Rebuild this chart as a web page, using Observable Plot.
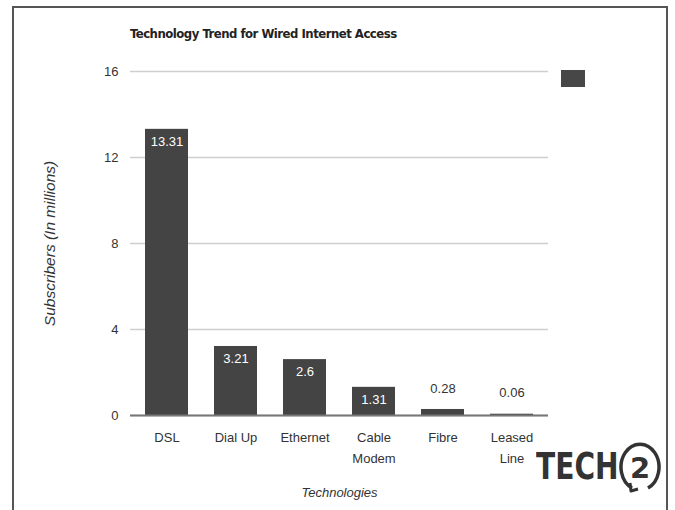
<!DOCTYPE html>
<html>
<head>
<meta charset="utf-8">
<script src="https://cdn.jsdelivr.net/npm/d3@7"></script>
<script src="https://cdn.jsdelivr.net/npm/@observablehq/plot@0.6"></script>
<style>
  html, body { margin: 0; padding: 0; background: #fff; }
  #wrap { position: relative; width: 675px; height: 510px; overflow: hidden; font-family: "Liberation Sans", Arial, sans-serif; }
  #chart svg { position: absolute; left: 0; top: 0; }
  .frame { position: absolute; background: #555; }
  #title { position: absolute; left: 130px; top: 26px; font-size: 13px; font-weight: bold; color: #222; font-family: "DejaVu Sans Condensed", "Liberation Sans", sans-serif; letter-spacing: -0.5px; }
  #swatch { position: absolute; left: 561px; top: 70px; width: 24px; height: 17px; background: #474747; }
  #logoT { position: absolute; left: 536px; top: 443px; font-family: "DejaVu Sans", sans-serif; font-weight: bold; font-size: 37px; line-height: 48px; color: #333; transform: scaleX(0.76); transform-origin: left center; white-space: nowrap; }
  #logoC { position: absolute; left: 618px; top: 441px; }
</style>
</head>
<body>
<div id="wrap">
  <div id="chart"></div>
  <div class="frame" style="left:12px; top:6px; width:656px; height:2px;"></div>
  <div class="frame" style="left:12px; top:6px; width:2px; height:504px;"></div>
  <div class="frame" style="left:666px; top:6px; width:2px; height:504px;"></div>
  <div id="title">Technology Trend for Wired Internet Access</div>
  <div id="swatch"></div>
  <div id="logoT">TECH</div>
  <svg id="logoC" width="46" height="54" viewBox="0 0 46 54">
    <path d="M 30 47 A 19 23 0 1 0 14 47" fill="none" stroke="#333" stroke-width="3.5"/>
    <path d="M 12 42 L 13 50 L 20 48" fill="none" stroke="#333" stroke-width="3" stroke-linejoin="round"/>
    <text x="22" y="37" text-anchor="middle" font-family="DejaVu Sans, sans-serif" font-weight="bold" font-size="29" fill="#333">2</text>
  </svg>
</div>
<script>
const categories = ["DSL", "Dial Up", "Ethernet", "Cable\nModem", "Fibre", "Leased\nLine"];
const values = [13.31, 3.21, 2.6, 1.31, 0.28, 0.06];
const valueLabels = ["13.31", "3.21", "2.6", "1.31", "0.28", "0.06"];
const yTicks = [0, 4, 8, 12, 16];

const data = categories.map((c, i) => ({ category: c, value: values[i], label: valueLabels[i] }));
const inside = data.filter(d => d.value > 1);
const outside = data.filter(d => d.value <= 1);

const chart = Plot.plot({
  width: 675,
  height: 510,
  marginLeft: 130,
  marginRight: 127,
  marginTop: 71,
  marginBottom: 95,
  style: { fontFamily: "Liberation Sans, Arial, sans-serif", fontSize: "13px", color: "#333", background: "transparent" },
  x: { domain: categories, paddingInner: 0.38, paddingOuter: 0.2, label: null },
  y: { domain: [0, 16], label: null },
  marks: [
    Plot.gridY(yTicks, { stroke: "#cfcfcf", strokeOpacity: 1, strokeWidth: 1.5 }),
    Plot.barY(data, { x: "category", y: "value", fill: "#444" }),
    Plot.ruleY([0], { stroke: "#777", strokeWidth: 2 }),
    Plot.text(inside, { x: "category", y: "value", text: "label", dy: 12, fill: "#fff", fontSize: 13 }),
    Plot.text(outside, { x: "category", y: "value", text: "label", dy: -21, fill: "#333", fontSize: 13 }),
    Plot.axisY(yTicks, { tickSize: 0, tickPadding: 12, fontSize: 13, fill: "#333", label: null }),
    Plot.axisX({ tickSize: 0, tickPadding: 12, fontSize: 13, fill: "#333", lineHeight: 1.6, label: null }),
    Plot.text(["Subscribers (In millions)"], { frameAnchor: "left", textAnchor: "middle", dx: -80, rotate: -90, fontStyle: "italic", fontSize: 15.5, fill: "#333" }),
    Plot.text(["Technologies"], { frameAnchor: "bottom", dy: 81, fontStyle: "italic", fontSize: 13, fill: "#333" })
  ]
});
document.getElementById("chart").appendChild(chart);
</script>
</body>
</html>
